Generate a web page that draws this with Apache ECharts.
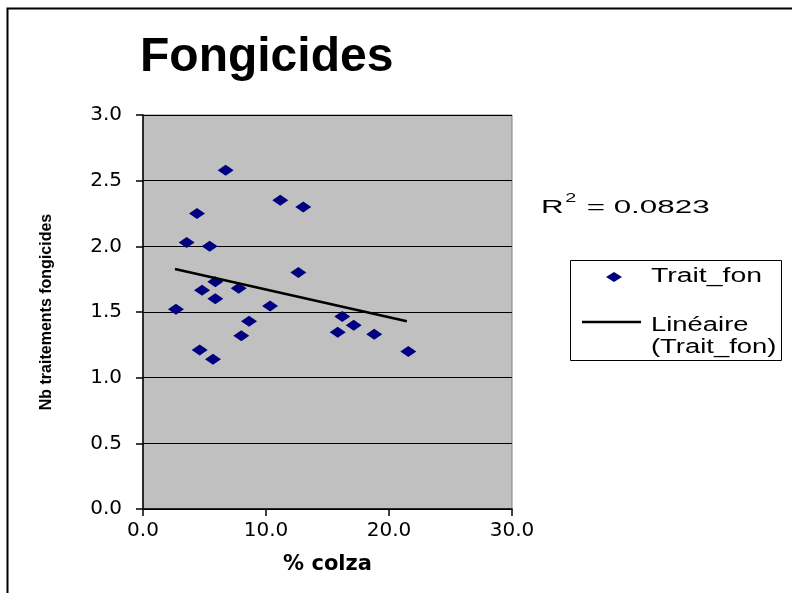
<!DOCTYPE html>
<html>
<head>
<meta charset="utf-8">
<script src="https://cdn.jsdelivr.net/npm/echarts@6/dist/echarts.min.js"></script>
<style>html,body{margin:0;padding:0;background:#fff;}#c{width:792px;height:593px;}</style>
</head>
<body>
<div id="c"></div>
<script>
var colzaPct = [6.72, 11.16, 13.03, 4.39, 3.55, 5.42, 12.63, 5.88, 4.80, 7.78, 5.88, 2.68, 10.33, 8.62, 7.99, 16.2, 17.13, 15.83, 18.8, 21.57, 4.61, 5.69];
var traitFon = [2.58, 2.35, 2.30, 2.25, 2.03, 2.00, 1.80, 1.73, 1.665, 1.68, 1.60, 1.52, 1.545, 1.43, 1.32, 1.465, 1.40, 1.345, 1.33, 1.20, 1.21, 1.14];
var trendX = [2.6, 21.45];
var trendY = [1.827, 1.429];
var yTicks = [0, 0.5, 1, 1.5, 2, 2.5, 3];
var xTicks = [0, 10, 20, 30];
var r2Text = '0.0823';

var FONT = '"Liberation Sans", Arial, sans-serif';
var WIDE = '"DejaVu Sans", sans-serif';
var chart = echarts.init(document.getElementById('c'));
var pts = colzaPct.map(function (x, i) { return [x, traitFon[i]]; });
var trend = trendX.map(function (x, i) { return [x, trendY[i]]; });

chart.setOption({
  animation: false,
  backgroundColor: '#ffffff',
  title: {
    text: 'Fongicides',
    left: 135, top: 29,
    textStyle: { fontFamily: FONT, fontWeight: 'bold', fontSize: 48, color: '#000' }
  },
  grid: {
    left: 143, right: 280, top: 115, bottom: 84,
    show: true, backgroundColor: '#c0c0c0', borderColor: '#808080', borderWidth: 1
  },
  xAxis: {
    type: 'value', min: xTicks[0], max: xTicks[xTicks.length - 1], interval: 10,
    name: '% colza', nameLocation: 'middle', nameGap: 45,
    nameTextStyle: { fontFamily: WIDE, fontWeight: 'bold', fontSize: 21, color: '#000' },
    axisLine: { lineStyle: { color: '#000', width: 1.5 } },
    axisTick: { show: true, length: 7, lineStyle: { color: '#000', width: 1.5 } },
    axisLabel: { fontFamily: WIDE, fontSize: 20, color: '#000', margin: 12,
      formatter: function (v) { return v.toFixed(1); } },
    splitLine: { show: false }
  },
  yAxis: {
    type: 'value', min: yTicks[0], max: yTicks[yTicks.length - 1], interval: 0.5,
    name: 'Nb traitements fongicides', nameLocation: 'middle', nameGap: 88,
    nameTextStyle: { fontFamily: FONT, fontWeight: 'bold', fontSize: 16, color: '#000' },
    axisLine: { show: true, lineStyle: { color: '#000', width: 1.5 } },
    axisTick: { show: true, length: 7, lineStyle: { color: '#000', width: 1.5 } },
    axisLabel: { fontFamily: WIDE, fontSize: 20, color: '#000', margin: 21,
      formatter: function (v) { return v.toFixed(1); } },
    splitLine: { show: true, lineStyle: { color: '#000', width: 1 } }
  },
  series: [
    {
      name: 'Trait_fon', type: 'scatter', data: pts,
      symbol: 'diamond', symbolSize: [16, 11],
      itemStyle: { color: '#000080', opacity: 1 }, z: 3
    },
    {
      name: 'Linéaire (Trait_fon)', type: 'line', data: trend,
      symbol: 'none', lineStyle: { color: '#000', width: 2.5 }, z: 4
    }
  ],
  graphic: [
    { type: 'rect', shape: { x: 7.5, y: 8.5, width: 820, height: 620 },
      style: { fill: 'none', stroke: '#000', lineWidth: 2 }, silent: true },
    { type: 'text', x: 541, y: 193, scaleX: 1.65, scaleY: 1,
      style: { text: '{r|R}{s|2}{r| = ' + r2Text + '}', fill: '#000',
        rich: { r: { fontFamily: FONT, fontSize: 19, verticalAlign: 'bottom', lineHeight: 24 },
                s: { fontFamily: FONT, fontSize: 12, verticalAlign: 'top', lineHeight: 24, padding: [0, 1, 9, 1] } } } },
    { type: 'rect', shape: { x: 570.5, y: 260.5, width: 211, height: 100 },
      style: { fill: '#fff', stroke: '#000', lineWidth: 1 } },
    { type: 'polygon', shape: { points: [[606, 277], [614, 272], [622, 277], [614, 282]] },
      style: { fill: '#000080' } },
    { type: 'text', x: 651, y: 266, scaleX: 1.42, scaleY: 1,
      style: { text: 'Trait_fon', fontFamily: FONT, fontSize: 20, fill: '#000' } },
    { type: 'line', shape: { x1: 582, y1: 322, x2: 641, y2: 322 },
      style: { stroke: '#000', lineWidth: 2.5 } },
    { type: 'text', x: 651, y: 314, scaleX: 1.37, scaleY: 1,
      style: { text: 'Linéaire\n(Trait_fon)', fontFamily: FONT, fontSize: 20, lineHeight: 22, fill: '#000' } }
  ]
});
</script>
</body>
</html>
